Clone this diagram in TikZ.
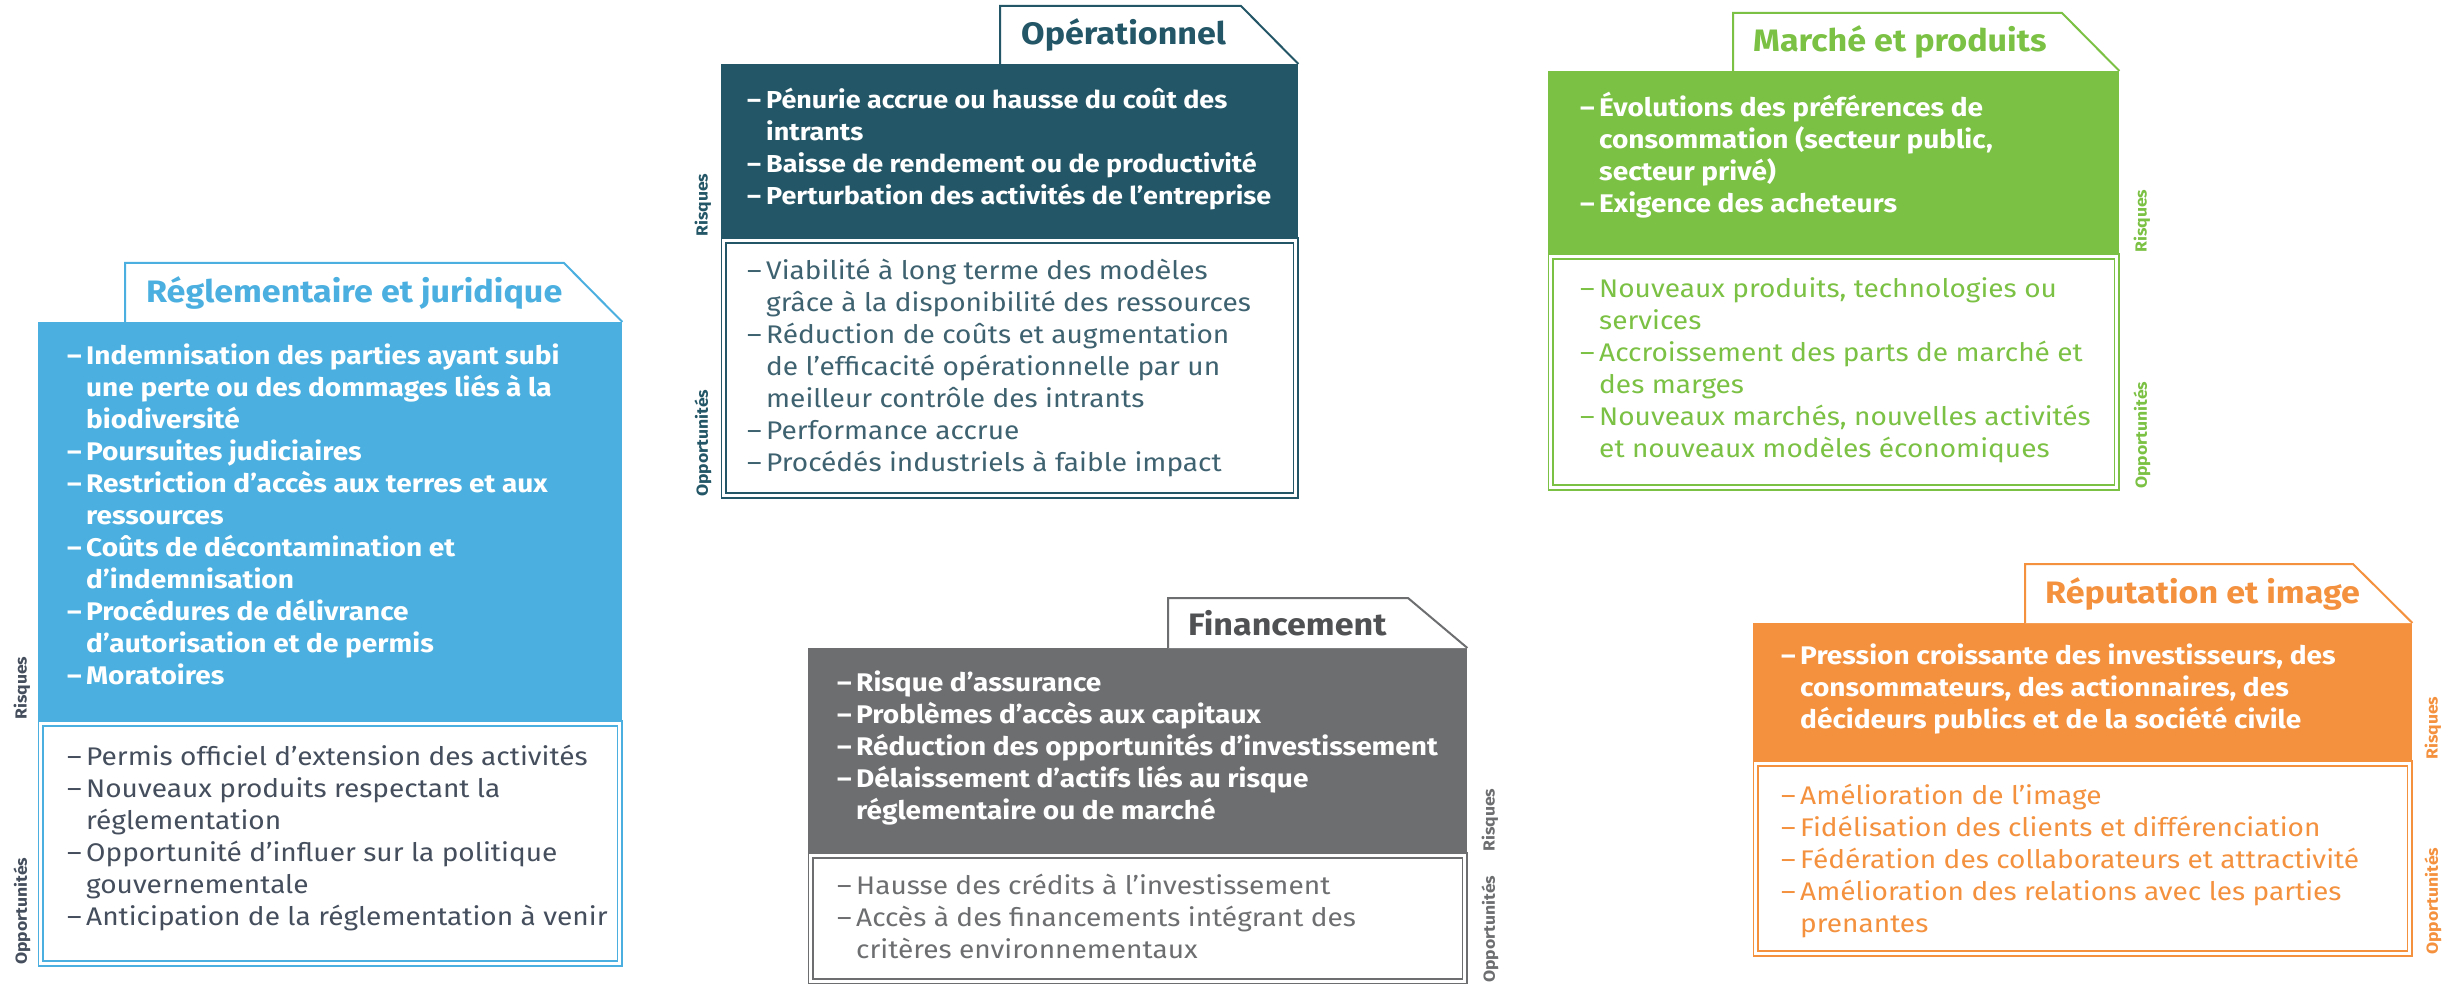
\documentclass[tikz,border=0pt]{standalone}
\usepackage{fontspec}
\setmainfont{Fira Sans}[FakeStretch=1.1]
\usepackage{tikz}
\usetikzlibrary{positioning}
\definecolor{regblue}{RGB}{75,176,224}
\definecolor{regtext}{RGB}{68,78,92}
\definecolor{opteal}{RGB}{35,86,102}
\definecolor{optext}{RGB}{62,98,112}
\definecolor{mkgreen}{RGB}{123,193,67}
\definecolor{fingray}{RGB}{109,110,112}
\definecolor{fintitle}{RGB}{80,81,83}
\definecolor{reporange}{RGB}{244,145,62}
\newcommand{\bodyfont}{\fontsize{25.5}{32}\selectfont}
\newcommand{\titlefont}{\fontsize{31}{34}\selectfont}
\newcommand{\labelfont}{\fontsize{16}{20}\selectfont}
\newcommand{\dash}{\strut\makebox[19pt][l]{–}}
\newcommand{\ind}{\strut\hspace*{19pt}}

\begin{document}
\begin{tikzpicture}[x=1pt, y=-1pt,
    riskbox/.style={anchor=north west, inner sep=0pt},
    oppbox/.style={draw=#1, double, double distance=3.5pt, line width=1.4pt, fill=white, inner sep=0pt},
    tabline/.style={draw=#1, fill=white, line width=2pt},
    tabtitle/.style={anchor=west, inner sep=0pt, text=#1, font=\titlefont\bfseries},
    risktext/.style={anchor=north west, inner sep=0pt, align=left, text=white, font=\bodyfont\bfseries},
    opptext/.style={anchor=north west, inner sep=0pt, align=left, text=#1, font=\bodyfont},
    sidelabel/.style={rotate=90, anchor=west, inner sep=0pt, text=#1, font=\labelfont\bfseries}
]
\useasboundingbox (0,0) rectangle (2458,984);

\node[riskbox, fill=regblue, minimum width=584pt, minimum height=398pt] (reg) at (38,322) {};
\node[oppbox=regblue, minimum width=579pt, minimum height=240pt, below=2.5pt of reg] (regopp) {};
\filldraw[tabline=regblue] (125,322) -- (125,263) -- (564,263) -- (reg.north east);
\node[tabtitle=regblue] (regtitle) at (146,293) {Réglementaire et juridique};
\node[risktext, below right=20pt and 29pt of reg.north west] (regrisk) {\dash Indemnisation des parties ayant subi\\ \ind une perte ou des dommages liés à la\\ \ind biodiversité\\ \dash Poursuites judiciaires\\ \dash Restriction d’accès aux terres et aux\\ \ind ressources\\ \dash Coûts de décontamination et\\ \ind d’indemnisation\\ \dash Procédures de délivrance\\ \ind d’autorisation et de permis\\ \dash Moratoires};
\node[opptext=regtext, below right=22pt and 29pt of reg.south west] (regopptext) {\dash Permis officiel d’extension des activités\\ \dash Nouveaux produits respectant la\\ \ind réglementation\\ \dash Opportunité d’influer sur la politique\\ \ind gouvernementale\\ \dash Anticipation de la réglementation à venir};
\node[sidelabel=regtext] (reglblr) at (22,720) {Risques};
\node[sidelabel=regtext] (reglblo) at (22,965) {Opportunités};

\node[riskbox, fill=opteal, minimum width=577pt, minimum height=173pt] (ope) at (721,64) {};
\node[oppbox=opteal, minimum width=572pt, minimum height=255pt, below=2.5pt of ope] (opeopp) {};
\filldraw[tabline=opteal] (1000,64) -- (1000,6) -- (1241,6) -- (ope.north east);
\node[tabtitle=opteal] (opetitle) at (1021,35) {Opérationnel};
\node[risktext, font=\fontsize{24.5}{32}\selectfont\bfseries, below right=22pt and 26pt of ope.north west] (operisk) {\dash Pénurie accrue ou hausse du coût des\\ \ind intrants\\ \dash Baisse de rendement ou de productivité\\ \dash Perturbation des activités de l’entreprise};
\node[opptext=optext, below right=19pt and 26pt of ope.south west] (opeopptext) {\dash Viabilité à long terme des modèles\\ \ind grâce à la disponibilité des ressources\\ \dash Réduction de coûts et augmentation\\ \ind de l’efficacité opérationnelle par un\\ \ind meilleur contrôle des intrants\\ \dash Performance accrue\\ \dash Procédés industriels à faible impact};
\node[sidelabel=opteal] (opelblr) at (703,237) {Risques};
\node[sidelabel=opteal] (opelblo) at (703,497) {Opportunités};

\node[riskbox, fill=mkgreen, minimum width=571pt, minimum height=182pt] (mkt) at (1548,71) {};
\node[oppbox=mkgreen, minimum width=566pt, minimum height=231pt, below=2.5pt of mkt] (mktopp) {};
\filldraw[tabline=mkgreen] (1733,71) -- (1733,13) -- (2062,13) -- (mkt.north east);
\node[tabtitle=mkgreen] (mkttitle) at (1753,42) {Marché et produits};
\node[risktext, below right=21pt and 32pt of mkt.north west] (mktrisk) {\dash Évolutions des préférences de\\ \ind consommation (secteur public,\\ \ind secteur privé)\\ \dash Exigence des acheteurs};
\node[opptext=mkgreen, below right=21pt and 32pt of mkt.south west] (mktopptext) {\dash Nouveaux produits, technologies ou\\ \ind services\\ \dash Accroissement des parts de marché et\\ \ind des marges\\ \dash Nouveaux marchés, nouvelles activités\\ \ind et nouveaux modèles économiques};
\node[sidelabel=mkgreen] (mktlblr) at (2142,253) {Risques};
\node[sidelabel=mkgreen] (mktlblo) at (2142,489) {Opportunités};

\node[riskbox, fill=fingray, minimum width=659pt, minimum height=204pt] (fin) at (808,648) {};
\node[oppbox=fingray, minimum width=654pt, minimum height=126pt, below=2.5pt of fin] (finopp) {};
\filldraw[tabline=fingray] (1168,648) -- (1168,598) -- (1408,598) -- (fin.north east);
\node[tabtitle=fintitle] (fintitle) at (1188,623) {Financement};
\node[risktext, below right=21pt and 29pt of fin.north west] (finrisk) {\dash Risque d’assurance\\ \dash Problèmes d’accès aux capitaux\\ \dash Réduction des opportunités d’investissement\\ \dash Délaissement d’actifs liés au risque\\ \ind réglementaire ou de marché};
\node[opptext=fingray, below right=19pt and 29pt of fin.south west] (finopptext) {\dash Hausse des crédits à l’investissement\\ \dash Accès à des financements intégrant des\\ \ind critères environnementaux};
\node[sidelabel=fingray] (finlblr) at (1490,852) {Risques};
\node[sidelabel=fingray] (finlblo) at (1490,983) {Opportunités};

\node[riskbox, fill=reporange, minimum width=659pt, minimum height=137pt] (rep) at (1753,623) {};
\node[oppbox=reporange, minimum width=654pt, minimum height=190pt, below=2.5pt of rep] (repopp) {};
\filldraw[tabline=reporange] (2025,623) -- (2025,564) -- (2353,564) -- (rep.north east);
\node[tabtitle=reporange] (reptitle) at (2045,594) {Réputation et image};
\node[risktext, below right=19pt and 28pt of rep.north west] (reprisk) {\dash Pression croissante des investisseurs, des\\ \ind consommateurs, des actionnaires, des\\ \ind décideurs publics et de la société civile};
\node[opptext=reporange, below right=21pt and 28pt of rep.south west] (repopptext) {\dash Amélioration de l’image\\ \dash Fidélisation des clients et différenciation\\ \dash Fédération des collaborateurs et attractivité\\ \dash Amélioration des relations avec les parties\\ \ind prenantes};
\node[sidelabel=reporange] (replblr) at (2433,760) {Risques};
\node[sidelabel=reporange] (replblo) at (2433,955) {Opportunités};
\end{tikzpicture}
\end{document}
